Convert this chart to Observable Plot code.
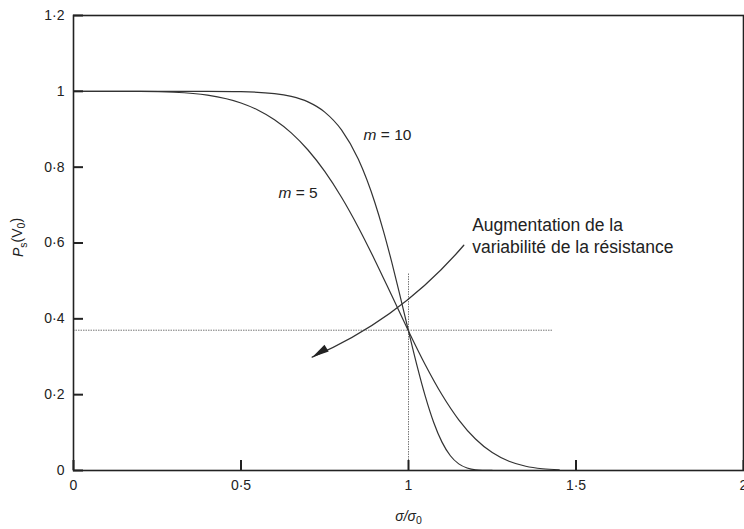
<!DOCTYPE html>
<html><head><meta charset="utf-8">
<script src="https://cdn.jsdelivr.net/npm/d3@7"></script>
<script src="https://cdn.jsdelivr.net/npm/@observablehq/plot@0.6"></script>
<style>body{margin:0;background:#fff}</style>
</head><body><div id="chart"></div>
<script>
// ---- data ----
const xTicks = [0, 0.5, 1, 1.5, 2];
const yTicks = [0, 0.2, 0.4, 0.6, 0.8, 1, 1.2];

const sigmaM5 = [0, 0.1, 0.2, 0.3, 0.4, 0.5, 0.55, 0.6, 0.65, 0.7, 0.75, 0.8, 0.85, 0.9, 0.95, 1.0, 1.05, 1.1, 1.15, 1.2, 1.25, 1.3, 1.35, 1.4, 1.45];
const psM5 = [1, 1, 0.9997, 0.9976, 0.9898, 0.9692, 0.9509, 0.9252, 0.8905, 0.8453, 0.7888, 0.7206, 0.6417, 0.5541, 0.4613, 0.3679, 0.2791, 0.1998, 0.1338, 0.0831, 0.0473, 0.0244, 0.0113, 0.0046, 0.0016];

const sigmaM10 = [0, 0.3, 0.4, 0.5, 0.6, 0.65, 0.7, 0.75, 0.8, 0.85, 0.9, 0.925, 0.95, 0.975, 1.0, 1.025, 1.05, 1.075, 1.1, 1.125, 1.15, 1.175, 1.2, 1.25];
const psM10 = [1, 1, 0.9999, 0.999, 0.994, 0.9866, 0.9721, 0.9452, 0.8982, 0.8213, 0.7056, 0.6322, 0.5495, 0.4601, 0.3679, 0.2780, 0.1962, 0.1274, 0.0748, 0.0389, 0.0175, 0.0066, 0.0020, 0.0001];

const curveLabels = ["m = 10", "m = 5"];
const curveLabelX = [0.866, 0.612];
const curveLabelY = [0.884, 0.733];

const refLevel = [0.37];
const refLevelEnd = [1.43];
const refSigma = [1];
const refSigmaEnd = [0.52];

const arrowStart = [1.165, 0.594];
const arrowEnd = [0.7125, 0.299];

const annotationLines = ["Augmentation de la", "variabilité de la résistance"];
const annotationX = [1.19, 1.19];
const annotationY = [0.646, 0.588];

const xLabel = ["σ/σ0"];
const yLabel = ["Ps(V0)"];

// ---- build ----
const m5 = sigmaM5.map((x, i) => ({x, y: psM5[i]}));
const m10 = sigmaM10.map((x, i) => ({x, y: psM10[i]}));
const labels = curveLabels.map((t, i) => ({t, x: curveLabelX[i], y: curveLabelY[i]}));
const anno = annotationLines.map((t, i) => ({t, x: annotationX[i], y: annotationY[i]}));
const fmt = d => String(d).replace(".", "·");

const W = 744, H = 529, mL = 73, mT = 15, mR = 1, mB = 59;
const fw = W - mL - mR, fh = H - mT - mB;
const ink = "#333";

// narrow filled arrow head, tip at the origin, pointing up
const headSymbol = {draw(ctx) { ctx.moveTo(0, 0); ctx.lineTo(-4, 17); ctx.lineTo(4, 17); ctx.closePath(); }};

const chart = Plot.plot({
  width: W, height: H,
  marginLeft: mL, marginTop: mT, marginRight: mR, marginBottom: mB,
  style: {fontFamily: "'Liberation Sans', Arial, sans-serif", fontSize: "14px", color: "#222", background: "#fff"},
  x: {domain: [0, 2], label: null},
  y: {domain: [0, 1.2], label: null},
  marks: [
    Plot.ruleY(refLevel, {y: d => d, x1: 0, x2: () => refLevelEnd[0], stroke: "#777", strokeWidth: 1, strokeDasharray: "1.5,1"}),
    Plot.ruleX(refSigma, {x: d => d, y1: 0, y2: () => refSigmaEnd[0], stroke: "#777", strokeWidth: 1, strokeDasharray: "1.5,1"}),
    Plot.line(m5, {x: "x", y: "y", stroke: ink, strokeWidth: 1.2, curve: "monotone-x"}),
    Plot.line(m10, {x: "x", y: "y", stroke: ink, strokeWidth: 1.2, curve: "monotone-x"}),
    Plot.arrow([0], {x1: () => arrowStart[0], y1: () => arrowStart[1], x2: () => arrowEnd[0], y2: () => arrowEnd[1],
      bend: 13, stroke: ink, strokeWidth: 1.3, headLength: 0}),
    Plot.dot([0], {x: () => arrowEnd[0], y: () => arrowEnd[1], symbol: headSymbol, rotate: 238, fill: "#222", stroke: "none", r: 5}),
    Plot.text(labels, {x: "x", y: "y", text: "t", textAnchor: "start", fontSize: 15.5, fill: "#222"}),
    Plot.text(anno, {x: "x", y: "y", text: "t", textAnchor: "start", fontSize: 17.5, fill: "#222"}),
    Plot.tickX(xTicks, {x: d => d, insetTop: fh - 10, stroke: "#222", strokeWidth: 2}),
    Plot.tickY(yTicks, {y: d => d, insetRight: fw - 10, stroke: "#222", strokeWidth: 2}),
    Plot.axisX(xTicks, {tickSize: 0, tickPadding: 10, tickFormat: fmt, fontSize: 14, label: null}),
    Plot.axisY(yTicks, {tickSize: 0, tickPadding: 9, tickFormat: fmt, fontSize: 14, label: null}),
    Plot.text(xLabel, {x: () => 1, frameAnchor: "bottom", dy: 50, fontSize: 14, fill: "#222"}),
    Plot.text(yLabel, {y: () => 0.563, frameAnchor: "left", dx: -55, rotate: -90, fontSize: 14, fill: "#222"}),
    Plot.frame({stroke: "#222", strokeWidth: 1.6})
  ]
});
document.getElementById("chart").append(chart);

function rich(content, parts) {
  d3.select(chart).selectAll("text").filter(function() { return this.textContent === content; }).each(function() {
    const t = d3.select(this);
    t.text(null);
    let shifted = false;
    for (const [s, o] of parts) {
      const ts = t.append("tspan").text(s);
      if (o.italic) ts.attr("font-style", "italic");
      if (o.sub) { ts.attr("font-size", "0.75em").attr("dy", "0.35em"); shifted = true; }
      else if (shifted) { ts.attr("dy", "-0.35em"); shifted = false; }
    }
  });
}
for (const lab of curveLabels) rich(lab, [["m", {italic: true}], [lab.slice(1), {}]]);
rich(xLabel[0], [["σ/σ", {italic: true}], ["0", {sub: true}]]);
rich(yLabel[0], [["P", {italic: true}], ["s", {sub: true}], ["(V", {}], ["0", {sub: true}], [")", {}]]);
</script>
</body></html>
